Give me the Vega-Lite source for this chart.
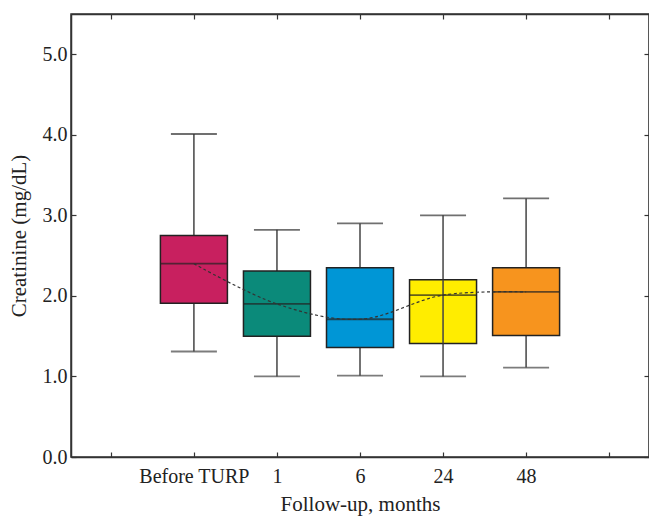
{
  "$schema": "https://vega.github.io/schema/vega-lite/v6.json",
  "autosize": "none",
  "width": 578,
  "height": 443,
  "padding": {"left": 71, "top": 14, "right": 0, "bottom": 60},
  "background": "white",
  "data": {
    "values": [
      {"group": "Before TURP", "lower": 1.31, "q1": 1.91, "median": 2.40, "q3": 2.75, "upper": 4.01},
      {"group": "1", "lower": 1.0, "q1": 1.50, "median": 1.90, "q3": 2.31, "upper": 2.82},
      {"group": "6", "lower": 1.01, "q1": 1.36, "median": 1.71, "q3": 2.35, "upper": 2.90},
      {"group": "24", "lower": 1.0, "q1": 1.41, "median": 2.01, "q3": 2.20, "upper": 3.0},
      {"group": "48", "lower": 1.11, "q1": 1.51, "median": 2.05, "q3": 2.35, "upper": 3.21}
    ]
  },
  "config": {
    "view": {"stroke": "#333", "strokeWidth": 1.5},
    "font": "Liberation Serif",
    "axis": {
      "grid": false,
      "domainColor": "#333",
      "domainWidth": 1.5,
      "tickColor": "#333",
      "tickWidth": 1.2,
      "tickSize": -5,
      "labelFont": "Liberation Serif",
      "labelFontSize": 20,
      "labelColor": "#222",
      "titleFont": "Liberation Serif",
      "titleFontSize": 21,
      "titleFontWeight": "normal",
      "titleColor": "#222"
    }
  },
  "resolve": {"axis": {"x": "independent", "y": "independent"}},
  "layer": [
    {
      "mark": {"type": "rule", "color": "#444", "strokeWidth": 1.5},
      "encoding": {
        "x": {
          "field": "group", "type": "nominal",
          "scale": {"type": "point", "padding": 0.48, "domain": ["L", "Before TURP", "1", "6", "24", "48", "R"]},
          "axis": {
            "orient": "bottom", "title": "Follow-up, months", "labelAngle": 0,
            "labelPadding": 14, "titlePadding": 7,
            "labelExpr": "datum.value == 'L' || datum.value == 'R' ? '' : datum.value"
          }
        },
        "y": {
          "field": "lower", "type": "quantitative",
          "scale": {"domain": [0, 5.5], "nice": false},
          "axis": {"orient": "left", "title": "Creatinine (mg/dL)", "values": [0, 1, 2, 3, 4, 5], "format": ".1f", "labelPadding": 9, "titlePadding": 13}
        },
        "y2": {"field": "upper"}
      }
    },
    {
      "mark": {"type": "bar", "size": 67, "stroke": "#222", "strokeWidth": 1.5},
      "encoding": {
        "x": {
          "field": "group", "type": "nominal",
          "axis": {"orient": "top", "title": null, "labels": false, "domain": true}
        },
        "y": {
          "field": "q1", "type": "quantitative",
          "axis": {"orient": "right", "title": null, "labels": false, "values": [0, 1, 2, 3, 4, 5]}
        },
        "y2": {"field": "q3"},
        "color": {
          "field": "group", "type": "nominal",
          "scale": {
            "domain": ["Before TURP", "1", "6", "24", "48"],
            "range": ["#C8205F", "#0B8A7A", "#0096D6", "#FFED00", "#F7941E"]
          },
          "legend": null
        },
        "opacity": {"value": 1}
      }
    },
    {
      "transform": [{"filter": "datum.group == '24'"}],
      "mark": {"type": "rule", "color": "#444", "strokeWidth": 1.5},
      "encoding": {
        "x": {"field": "group", "type": "nominal", "axis": null},
        "y": {"field": "q1", "type": "quantitative", "axis": null},
        "y2": {"field": "q3"}
      }
    },
    {
      "mark": {"type": "tick", "size": 67, "thickness": 1.8, "color": "#222"},
      "encoding": {
        "x": {"field": "group", "type": "nominal", "axis": null},
        "y": {"field": "median", "type": "quantitative", "axis": null}
      }
    },
    {
      "mark": {"type": "tick", "size": 46, "thickness": 1.8, "color": "#444"},
      "encoding": {
        "x": {"field": "group", "type": "nominal", "axis": null},
        "y": {"field": "lower", "type": "quantitative", "axis": null}
      }
    },
    {
      "mark": {"type": "tick", "size": 46, "thickness": 1.8, "color": "#333"},
      "encoding": {
        "x": {"field": "group", "type": "nominal", "axis": null},
        "y": {"field": "upper", "type": "quantitative", "axis": null}
      }
    },
    {
      "mark": {"type": "line", "interpolate": "cardinal", "strokeDash": [3, 2.5], "strokeWidth": 1.2, "color": "#333"},
      "encoding": {
        "x": {"field": "group", "type": "nominal", "axis": null, "sort": ["Before TURP", "1", "6", "24", "48"]},
        "y": {"field": "median", "type": "quantitative", "axis": null}
      }
    }
  ]
}
